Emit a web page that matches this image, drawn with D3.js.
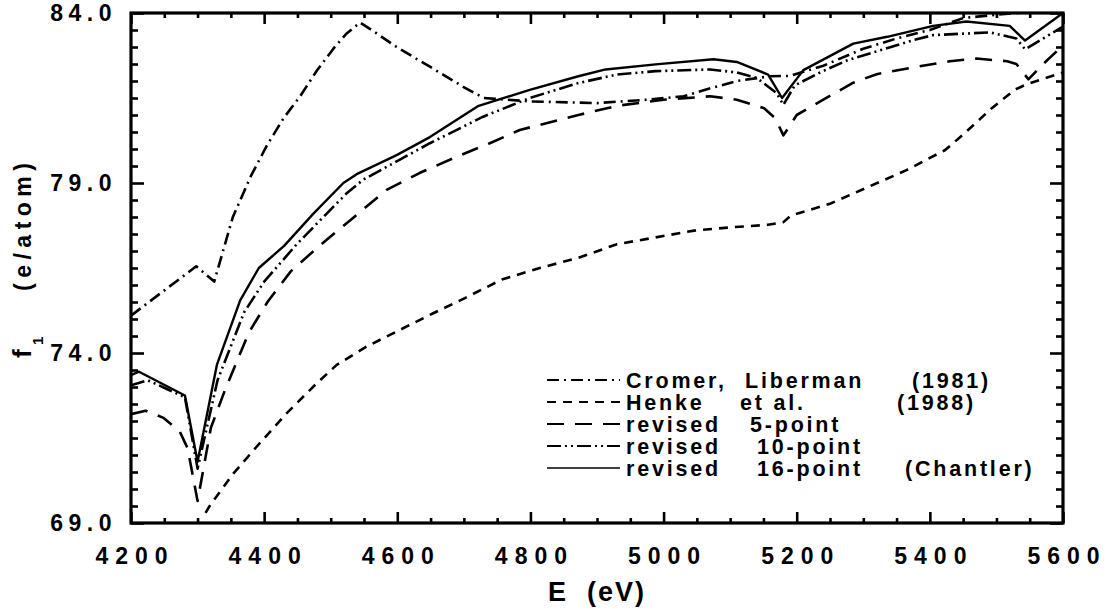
<!DOCTYPE html>
<html><head><meta charset="utf-8">
<script src="https://cdn.jsdelivr.net/npm/d3@7"></script>
<style>
body{margin:0;background:#fff}
svg{display:block}
text{font-family:"Liberation Sans",Arial,Helvetica,sans-serif;font-weight:bold;fill:#000}
</style>
</head><body>
<svg id="c" width="1110" height="611"></svg>
<script>
// ---------- data ----------
const xTicks = [4200, 4400, 4600, 4800, 5000, 5200, 5400, 5600];
const yTicks = [69, 74, 79, 84];

const cromerE = [4200, 4298, 4325, 4353, 4380, 4404, 4429, 4454, 4479, 4504, 4524, 4544, 4569, 4599, 4649, 4699, 4730, 4800, 4900, 4975, 5030, 5064, 5110, 5160, 5190, 5240, 5300, 5350, 5400, 5450, 5500, 5560, 5600];
const cromerF = [75.1, 76.55, 76.1, 78.0, 79.2, 80.1, 80.9, 81.55, 82.3, 82.95, 83.4, 83.72, 83.4, 83.0, 82.42, 81.83, 81.5, 81.4, 81.35, 81.45, 81.55, 81.75, 82.0, 82.14, 82.15, 82.45, 82.95, 83.25, 83.5, 83.85, 83.95, 84.05, 84.15];

const henkeE = [4312, 4319, 4354, 4389, 4434, 4479, 4509, 4554, 4604, 4654, 4700, 4757, 4814, 4872, 4930, 4988, 5046, 5104, 5157, 5180, 5191, 5250, 5307, 5365, 5423, 5452, 5493, 5528, 5545, 5568, 5600];
const henkeF = [69.3, 69.53, 70.46, 71.25, 72.23, 73.11, 73.65, 74.19, 74.68, 75.17, 75.6, 76.16, 76.5, 76.8, 77.2, 77.4, 77.6, 77.7, 77.77, 77.85, 78.04, 78.39, 78.88, 79.38, 79.97, 80.46, 81.2, 81.75, 81.9, 82.05, 82.25];

const rev5E = [4200, 4222, 4248, 4273, 4285, 4300, 4320, 4341, 4377, 4405, 4440, 4484, 4529, 4584, 4634, 4689, 4739, 4784, 4814, 4872, 4930, 5000, 5070, 5110, 5151, 5168, 5180, 5200, 5240, 5285, 5320, 5375, 5430, 5470, 5516, 5530, 5548, 5573, 5600];
const rev5F = [72.2, 72.3, 72.1, 71.7, 71.2, 69.65, 71.8, 72.9, 74.6, 75.5, 76.4, 77.17, 77.9, 78.8, 79.3, 79.77, 80.17, 80.56, 80.71, 81.0, 81.27, 81.45, 81.55, 81.45, 81.2, 80.9, 80.4, 81.0, 81.45, 81.95, 82.2, 82.4, 82.58, 82.66, 82.58, 82.5, 82.05, 82.55, 83.05];

const rev10E = [4200, 4225, 4253, 4281, 4300, 4330, 4370, 4400, 4449, 4524, 4549, 4649, 4729, 4799, 4872, 4930, 4988, 5070, 5110, 5140, 5170, 5180, 5197, 5237, 5275, 5325, 5375, 5405, 5490, 5530, 5543, 5600];
const rev10F = [73.05, 73.2, 72.95, 72.7, 70.6, 73.2, 75.2, 76.1, 77.2, 78.7, 79.1, 80.17, 80.95, 81.5, 81.94, 82.19, 82.29, 82.34, 82.25, 82.09, 81.64, 81.3, 81.87, 82.27, 82.6, 82.9, 83.2, 83.35, 83.43, 83.25, 82.93, 83.6];

const rev16E = [4200, 4212, 4281, 4300, 4329, 4364, 4392, 4430, 4474, 4519, 4539, 4599, 4649, 4721, 4799, 4872, 4913, 4988, 5075, 5110, 5157, 5178, 5210, 5285, 5336, 5405, 5455, 5520, 5543, 5600];
const rev16F = [73.35, 73.45, 72.75, 70.8, 73.65, 75.55, 76.5, 77.15, 78.1, 79.0, 79.26, 79.82, 80.35, 81.26, 81.74, 82.14, 82.34, 82.49, 82.64, 82.56, 82.19, 81.5, 82.32, 83.1, 83.3, 83.62, 83.75, 83.62, 83.19, 84.0];

const seriesNames = ["Cromer,  Liberman  (1981)", "Henke  et al.  (1988)", "revised  5-point", "revised  10-point", "revised  16-point  (Chantler)"];
const seriesE = [cromerE, henkeE, rev5E, rev10E, rev16E];
const seriesF = [cromerF, henkeF, rev5F, rev10F, rev16F];
const seriesDash = ["12,5,2,5", "9,7", "17,11", "14,4,2,4,2,4", null];

// ---------- layout ----------
const L = 131, R = 1063, T = 13, B = 523;
const svg = d3.select("#c");
const x = d3.scaleLinear().domain([4200, 5600]).range([L, R]);
const y = d3.scaleLinear().domain([69, 84]).range([B, T]);

const minorX = d3.range(4200, 5601, 50).filter(v => v % 200 !== 0);
const minorY = d3.range(69, 84.01, 0.5).filter(v => Math.abs((v - 69) % 5) > 1e-6);

function styleAxis(g) {
  g.select(".domain").remove();
  g.selectAll(".tick line").attr("stroke", "#000").attr("stroke-width", 2.6);
}
function styleLabels(g, ls) {
  g.selectAll(".tick text").attr("font-size", 23).attr("letter-spacing", ls)
    .style("font-family", '"Liberation Sans",Arial,sans-serif').style("font-weight", "bold").attr("fill", "#000");
}

// bottom
svg.append("g").attr("transform", `translate(0,${B})`)
  .call(d3.axisBottom(x).tickValues(minorX).tickSize(-5).tickFormat(""))
  .call(styleAxis);
const gb = svg.append("g").attr("transform", `translate(0,${B})`)
  .call(d3.axisBottom(x).tickValues(xTicks).tickSize(-11).tickPadding(25).tickFormat(d3.format("d")))
  .call(styleAxis);
styleLabels(gb, 7);
gb.selectAll(".tick text").attr("dx", 3.5);
// top
svg.append("g").attr("transform", `translate(0,${T})`)
  .call(d3.axisTop(x).tickValues(minorX).tickSize(-5).tickFormat(""))
  .call(styleAxis);
svg.append("g").attr("transform", `translate(0,${T})`)
  .call(d3.axisTop(x).tickValues(xTicks).tickSize(-11).tickFormat(""))
  .call(styleAxis);
// left
svg.append("g").attr("transform", `translate(${L},0)`)
  .call(d3.axisLeft(y).tickValues(minorY).tickSize(-7).tickFormat(""))
  .call(styleAxis);
const gl = svg.append("g").attr("transform", `translate(${L},0)`)
  .call(d3.axisLeft(y).tickValues(yTicks).tickSize(-13).tickPadding(14).tickFormat(d3.format(".1f")))
  .call(styleAxis);
styleLabels(gl, 5.5);
// right
svg.append("g").attr("transform", `translate(${R},0)`)
  .call(d3.axisRight(y).tickValues(minorY).tickSize(-7).tickFormat(""))
  .call(styleAxis);
svg.append("g").attr("transform", `translate(${R},0)`)
  .call(d3.axisRight(y).tickValues(yTicks).tickSize(-13).tickFormat(""))
  .call(styleAxis);

// frame
svg.append("rect").attr("x", L).attr("y", T).attr("width", R - L).attr("height", B - T)
  .attr("fill", "none").attr("stroke", "#000").attr("stroke-width", 3.2);

// clip
svg.append("clipPath").attr("id", "clip").append("rect")
  .attr("x", L).attr("y", T).attr("width", R - L).attr("height", B - T);

const line = d3.line().x(d => x(d[0])).y(d => y(d[1]));
const gLines = svg.append("g").attr("clip-path", "url(#clip)");
seriesE.forEach((E, i) => {
  const pts = E.map((e, j) => [e, seriesF[i][j]]);
  gLines.append("path").datum(pts).attr("d", line)
    .attr("fill", "none").attr("stroke", "#000")
    .attr("stroke-width", i === 4 ? 2.4 : 2.6)
    .attr("stroke-linejoin", "round")
    .attr("stroke-dasharray", seriesDash[i]);
});

// legend (words placed in columns)
const legX0 = 547, legX1 = 620, legY0 = 380, legDy = 22;
const legCols = [[626, 745, 912], [626, 740, 897], [626, 750], [626, 757], [626, 757, 905]];
seriesNames.forEach((name, i) => {
  const yy = legY0 + i * legDy;
  svg.append("line").attr("x1", legX0).attr("x2", legX1).attr("y1", yy).attr("y2", yy)
    .attr("stroke", "#000").attr("stroke-width", i === 4 ? 1.4 : 2)
    .attr("stroke-dasharray", seriesDash[i]);
  const t = svg.append("text").attr("y", yy + 7.5)
    .attr("font-size", 21.5).attr("letter-spacing", 2.8);
  name.split(/\s{2,}/).forEach((w, k) => {
    t.append("tspan").attr("x", legCols[i][k]).text(w);
  });
});

// axis titles
svg.append("text").attr("x", (L + R) / 2).attr("y", 601).attr("text-anchor", "middle")
  .attr("font-size", 27).attr("letter-spacing", 2).style("white-space", "pre").text("E  (eV)");

svg.append("text").attr("transform", "translate(31,358) rotate(-90)")
  .attr("font-size", 26).text("f");
svg.append("text").attr("transform", "translate(43,345) rotate(-90)")
  .attr("font-size", 15).text("1");
svg.append("text").attr("transform", "translate(31,291) rotate(-90)")
  .attr("font-size", 23).attr("letter-spacing", 5.5).text("(e/atom)");
</script>
</body></html>
